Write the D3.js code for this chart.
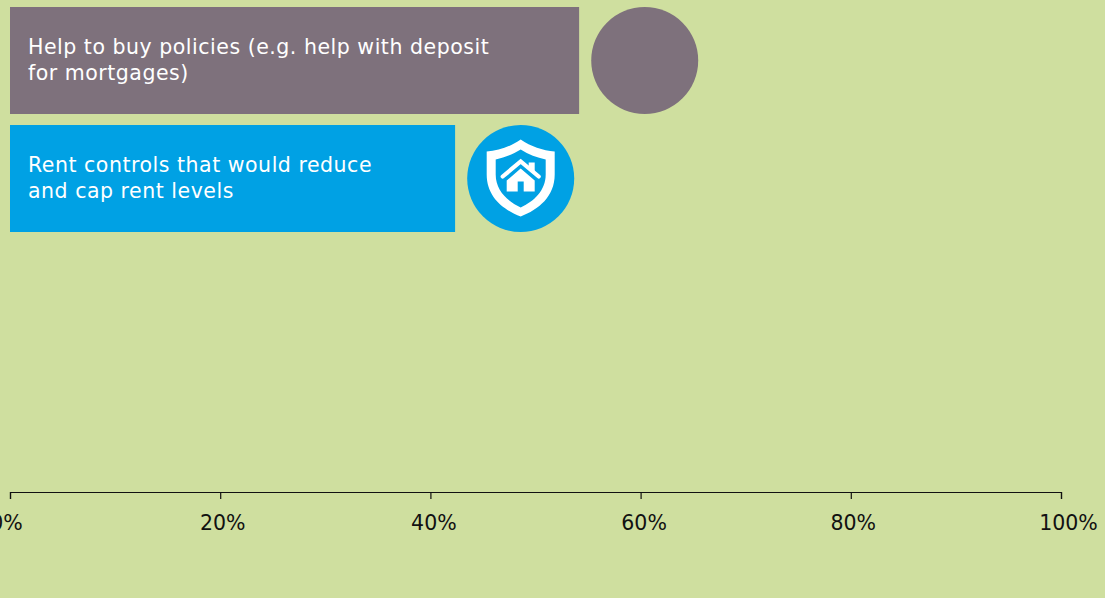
<!DOCTYPE html>
<html>
<head>
<meta charset="utf-8">
<script src="https://cdn.jsdelivr.net/npm/d3@7"></script>
<style>
  html, body { margin: 0; padding: 0; background: #cfdf9f; overflow: hidden; }
  svg { display: block; font-family: "DejaVu Sans", sans-serif; }
</style>
</head>
<body>
<svg id="chart" width="1105" height="598"></svg>
<script>
// Share of respondents backing each housing policy
const policies = ["Help to buy policies (e.g. help with deposit|for mortgages)", "Rent controls that would reduce|and cap rent levels"];
const shares = [54.15, 42.35];
const barColours = ["#7e717c", "#00a1e4"];
const tickValues = [0, 20, 40, 60, 80, 100];
// Horizontal nudge of each tick label relative to its tick
const tickNudges = [-4, 2, 3, 3, 2, 7];

const svg = d3.select("#chart");
const x = d3.scaleLinear().domain([0, 100]).range([10, 1061]);
const y = d3.scaleBand().domain(policies).range([7, 232]).paddingInner(0.0932);

const row = svg.selectAll("g.row")
  .data(policies)
  .join("g")
  .attr("class", "row")
  .attr("transform", d => `translate(0,${y(d)})`);

row.append("rect")
  .attr("x", x(0))
  .attr("width", (d, i) => x(shares[i]) - x(0))
  .attr("height", y.bandwidth())
  .attr("fill", (d, i) => barColours[i]);

const labels = row.append("text")
  .attr("fill", "#fff")
  .attr("font-size", 20.5)
  .attr("letter-spacing", 0.52);
labels.selectAll("tspan")
  .data(d => d.split("|"))
  .join("tspan")
  .attr("x", 28)
  .attr("y", (d, i) => 47 + i * 25.8)
  .text(d => d);

// Marker circle at the end of each bar
const r = y.bandwidth() / 2;
const marker = row.append("g")
  .attr("transform", (d, i) => `translate(${x(shares[i]) + 12.1 + r},${r})`);
marker.append("circle")
  .attr("r", r)
  .attr("fill", (d, i) => barColours[i]);

// Shield-and-house emblem on the rent controls marker
const emblem = marker.filter((d, i) => i === 1).append("g");
emblem.append("path")
  .attr("fill", "#fff")
  .attr("fill-rule", "evenodd")
  .attr("d", "M0,-39 C-10,-32 -22,-28 -34,-27 L-34,-4 C-34,18 -18,31 0,38 C18,31 34,18 34,-4 L34,-27 C22,-28 10,-32 0,-39Z " +
             "M0,-29 C-8,-24 -16,-21 -25,-19 L-25,-4 C-25,12 -13,23 0,29 C13,23 25,12 25,-4 L25,-19 C16,-21 8,-24 0,-29Z");
emblem.append("path")
  .attr("fill", "none")
  .attr("stroke", "#fff")
  .attr("stroke-width", 4.2)
  .attr("stroke-linecap", "round")
  .attr("stroke-linejoin", "miter")
  .attr("d", "M-18,-2 L0,-17 L18,-2");
emblem.append("path")
  .attr("fill", "#fff")
  .attr("d", "M8,-16 H14 V-6 L8,-11Z M0,-10 L14,2 V13 H3 V3 H-3 V13 H-14 V2Z");

// Percentage axis
const axis = svg.append("g")
  .attr("transform", "translate(0,492)")
  .call(d3.axisBottom(x).tickValues(tickValues).tickFormat(d => d + "%").tickSize(7).tickSizeOuter(7).tickPadding(16));
axis.select(".domain").attr("stroke", "#111").attr("stroke-width", 1.2);
axis.selectAll(".tick line").attr("stroke", "#111").attr("stroke-width", 1.2);
axis.selectAll(".tick text")
  .attr("font-size", 20.5)
  .attr("font-family", '"DejaVu Sans", sans-serif')
  .attr("fill", "#111")
  .attr("dx", (d, i) => tickNudges[i]);
</script>
</body>
</html>
